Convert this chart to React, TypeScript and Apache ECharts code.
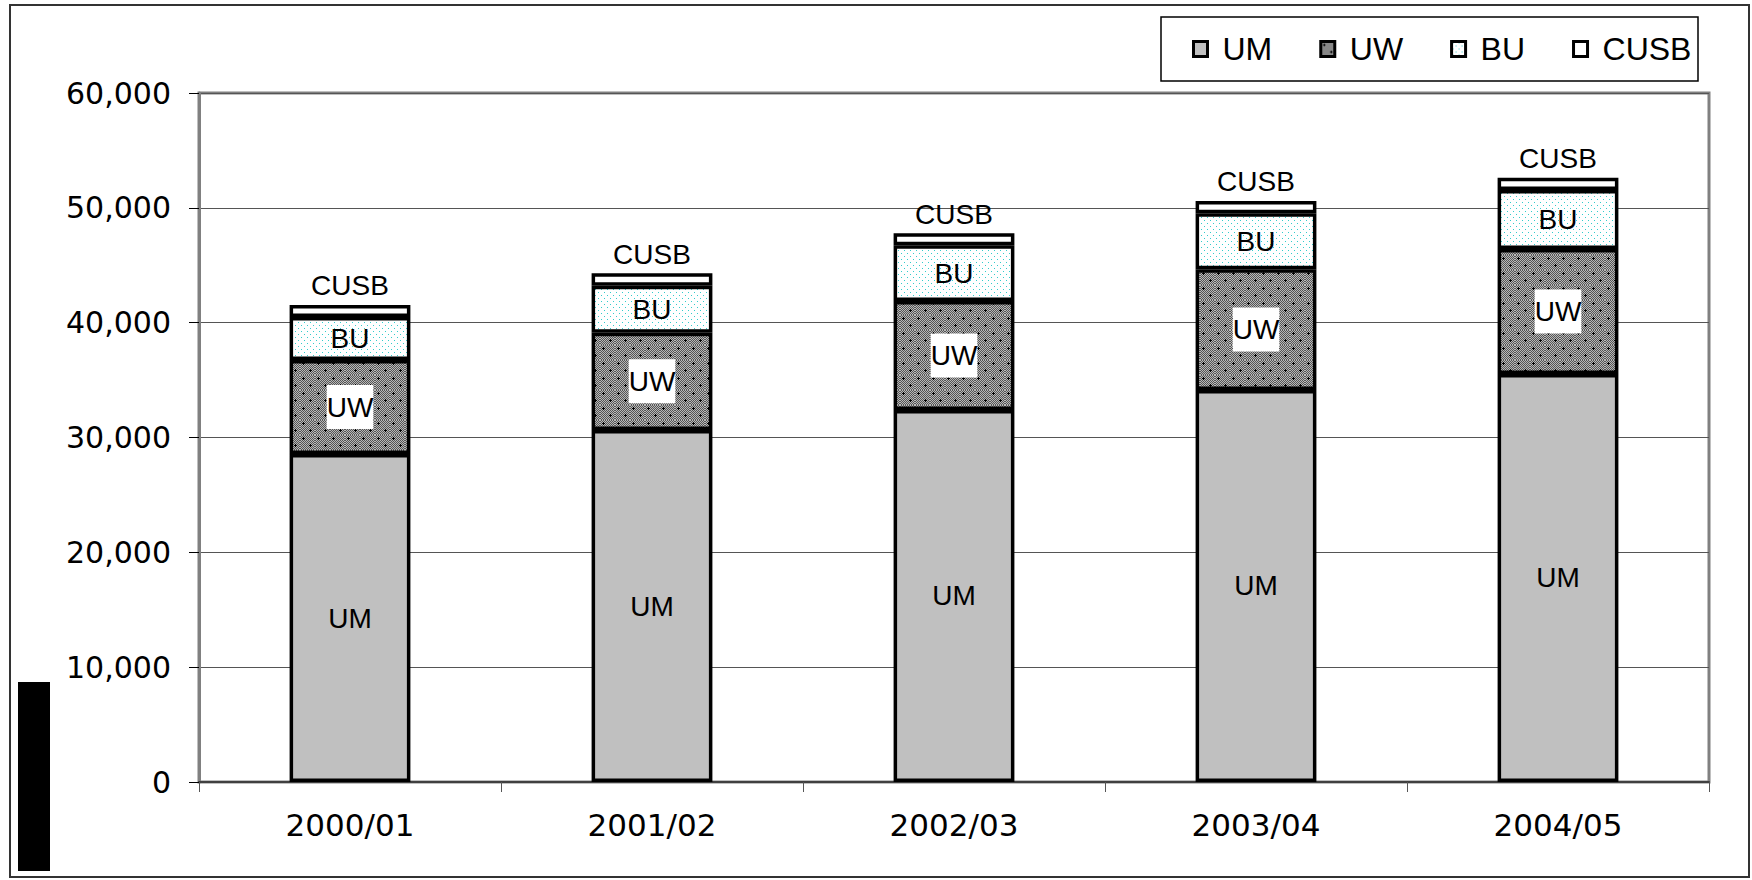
import React, { useEffect, useRef } from "react";
import * as echarts from "echarts";

const categories = ["2000/01", "2001/02", "2002/03", "2003/04", "2004/05"];
const seriesNames = ["UM", "UW", "BU", "CUSB"];
const umValues = [28560, 30650, 32400, 34140, 35530];
const uwValues = [8190, 8480, 9490, 10510, 10890];
const buValues = [3740, 4090, 4850, 4880, 5140];
const cusbValues = [1050, 1080, 1040, 1070, 1070];
const yMin = 0;
const yMax = 60000;
const yInterval = 10000;

function makeUWPattern(): HTMLCanvasElement {
  const c = document.createElement("canvas");
  c.width = 15;
  c.height = 15;
  const ctx = c.getContext("2d")!;
  for (let y = 0; y < 15; y++) {
    for (let x = 0; x < 15; x++) {
      ctx.fillStyle = (x + y) % 2 ? "#555555" : "#b8b8b8";
      ctx.fillRect(x, y, 1, 1);
    }
  }
  ctx.fillStyle = "#000";
  const plus = (cx: number, cy: number) => {
    ctx.fillRect(cx - 1, cy, 3, 1);
    ctx.fillRect(cx, cy - 1, 1, 3);
  };
  plus(3, 3);
  plus(10, 10);
  return c;
}

function makeBUPattern(): HTMLCanvasElement {
  const c = document.createElement("canvas");
  c.width = 6;
  c.height = 6;
  const ctx = c.getContext("2d")!;
  ctx.fillStyle = "#ffffff";
  ctx.fillRect(0, 0, 6, 6);
  ctx.fillStyle = "#33CCCC";
  ctx.fillRect(1, 1, 1, 1);
  ctx.fillRect(4, 4, 1, 1);
  return c;
}

const labelFont = "'Liberation Sans', Arial, sans-serif";
const axisFont = "'DejaVu Sans', 'Liberation Sans', sans-serif";

export default function App() {
  const ref = useRef<HTMLDivElement>(null);

  useEffect(() => {
    if (!ref.current) return;
    const chart = echarts.init(ref.current, undefined, { renderer: "svg" });
    const uwPat = { image: makeUWPattern(), repeat: "repeat", imageWidth: 15, imageHeight: 15 };
    const buPat = { image: makeBUPattern(), repeat: "repeat", imageWidth: 6, imageHeight: 6 };

    const baseItem = { borderColor: "#000", borderWidth: 3.5 };
    const baseLabel = {
      show: true,
      color: "#000",
      fontFamily: labelFont,
      fontSize: 28,
      formatter: (p: any) => p.seriesName,
    };

    const option: any = {
      animation: false,
      backgroundColor: "#ffffff",
      grid: {
        left: 199,
        right: 43,
        top: 93,
        bottom: 98,
        show: true,
        borderColor: "#808080",
        borderWidth: 3,
        backgroundColor: "transparent",
      },
      legend: {
        data: seriesNames,
        left: 1187,
        top: 28,
        orient: "horizontal",
        icon: "rect",
        itemWidth: 14,
        itemHeight: 15,
        itemGap: 47,
        itemStyle: { borderWidth: 3, borderColor: "#000" },
        textStyle: {
          fontFamily: labelFont,
          fontSize: 32,
          color: "#000",
          padding: [0, 0, 0, 10],
        },
      },
      xAxis: {
        type: "category",
        data: categories,
        axisLine: { show: true, lineStyle: { color: "#404040", width: 2 } },
        axisTick: { show: true, length: 10, lineStyle: { color: "#555", width: 1 } },
        axisLabel: { color: "#000", fontFamily: axisFont, fontSize: 31, margin: 27 },
      },
      yAxis: {
        type: "value",
        min: yMin,
        max: yMax,
        interval: yInterval,
        axisLine: { show: true, lineStyle: { color: "#808080", width: 3 } },
        axisTick: { show: true, length: 10, lineStyle: { color: "#000", width: 1 } },
        splitLine: { show: true, lineStyle: { color: "#555", width: 1 } },
        axisLabel: {
          color: "#000",
          fontFamily: axisFont,
          fontSize: 30,
          margin: 28,
          formatter: (v: number) => v.toLocaleString("en-US"),
        },
      },
      series: [
        {
          name: "UM",
          type: "bar",
          stack: "total",
          barWidth: "40%",
          data: umValues,
          itemStyle: { ...baseItem, color: "#C0C0C0" },
          label: { ...baseLabel, position: "inside" },
        },
        {
          name: "UW",
          type: "bar",
          stack: "total",
          data: uwValues,
          itemStyle: { ...baseItem, color: uwPat },
          label: {
            ...baseLabel,
            position: "inside",
            backgroundColor: "#ffffff",
            padding: [8, 0, 8, 0],
          },
        },
        {
          name: "BU",
          type: "bar",
          stack: "total",
          data: buValues,
          itemStyle: { ...baseItem, color: buPat },
          label: { ...baseLabel, position: "inside" },
        },
        {
          name: "CUSB",
          type: "bar",
          stack: "total",
          data: cusbValues,
          itemStyle: { ...baseItem, color: "#ffffff" },
          label: { ...baseLabel, position: "top", distance: 5 },
        },
      ],
      graphic: [
        {
          type: "rect",
          shape: { x: 10, y: 5, width: 1739, height: 872 },
          style: { fill: "none", stroke: "#333333", lineWidth: 2 },
          silent: true,
        },
        {
          type: "rect",
          shape: { x: 1161, y: 17, width: 537, height: 64 },
          style: { fill: "none", stroke: "#000000", lineWidth: 1.5 },
          silent: true,
        },
        {
          type: "rect",
          shape: { x: 18, y: 682, width: 32, height: 189 },
          style: { fill: "#000000" },
          silent: true,
        },
      ],
    };
    chart.setOption(option);
    return () => chart.dispose();
  }, []);

  return (
    <div
      ref={ref}
      style={{ position: "fixed", left: 0, top: 0, width: 1752, height: 880, background: "#fff" }}
    />
  );
}
